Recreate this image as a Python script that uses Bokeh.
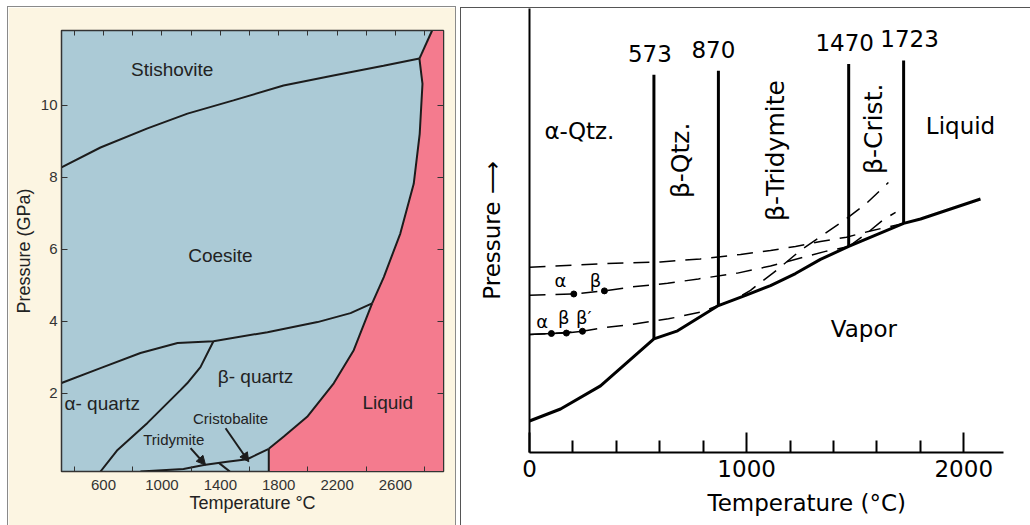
import math
from bokeh.plotting import figure
from bokeh.layouts import row
from bokeh.models import LinearAxis, FixedTicker, Range1d, Arrow, NormalHead, Title
from bokeh.core.properties import value
from bokeh.embed import file_html
from bokeh.resources import INLINE

# ---------------- Left panel data: T (°C), P (GPa) ----------------
stish_coes_T = [312, 579, 901, 1175, 1490, 1833, 2175, 2518, 2764]
stish_coes_P = [8.27, 8.82, 9.35, 9.76, 10.13, 10.54, 10.82, 11.09, 11.29]
stish_liq_T = [2764, 2851]
stish_liq_P = [11.29, 12.07]
coes_liq_T = [2764, 2785, 2766, 2725, 2633, 2520, 2440]
coes_liq_P = [11.29, 10.59, 9.20, 7.81, 6.43, 5.22, 4.49]
qtz_liq_T = [2440, 2314, 2177, 1995, 1835, 1732]
qtz_liq_P = [4.49, 3.19, 2.27, 1.34, 0.79, 0.45]
melt_T = [1732, 1732]
melt_P = [0.45, -0.18]
coes_qtz_T = [312, 579, 853, 1107, 1353, 1723, 2066, 2292, 2440]
coes_qtz_P = [2.28, 2.69, 3.11, 3.39, 3.44, 3.69, 3.97, 4.22, 4.49]
ab_qtz_T = [1353, 1264, 1173, 1127, 901, 696, 579]
ab_qtz_P = [3.44, 2.72, 2.27, 2.08, 1.17, 0.42, -0.18]
qtz_trid_T = [853, 1148, 1287, 1447, 1584, 1732]
qtz_trid_P = [-0.18, -0.11, 0.0, 0.09, 0.16, 0.45]
trid_cris_T = [1390, 1465]
trid_cris_P = [0.06, -0.18]
cris_arrow_T = [1436, 1595]
cris_arrow_P = [1.02, 0.09]
trid_arrow_T = [1196, 1299]
trid_arrow_P = [0.47, 0.0]
left_labels = ["Stishovite", "Coesite", "β- quartz", "α- quartz", "Liquid"]
left_label_T = [1070, 1401, 1641, 591, 2547]
left_label_P = [10.98, 5.83, 2.47, 1.71, 1.74]
small_labels = ["Cristobalite", "Tridymite"]
small_label_T = [1470, 1081]
small_label_P = [1.30, 0.72]
left_x_labels = [600, 1000, 1400, 1800, 2200, 2600]
left_x_minor = [400, 800, 1200, 1600, 2000, 2400, 2800]
left_x_top = list(range(400, 2801, 200))
left_y_ticks = [2, 4, 6, 8, 10]

# ---------------- Right panel data: T (°C), relative pressure ----------------
vap_T = [0, 143, 327, 450, 573, 682, 870, 995, 1110, 1225, 1340, 1470, 1723, 1801, 2077]
vap_P = [7.1, 9.8, 15.0, 20.3, 25.6, 27.4, 33.1, 35.4, 37.6, 40.3, 43.5, 46.4, 51.6, 52.6, 57.1]
trans_T = [573, 870, 1470, 1723]
trans_top_P = [85.1, 86.0, 87.5, 88.3]
trans_bot_P = [25.6, 33.1, 46.4, 51.6]
trans_labels = ["573", "870", "1470", "1723"]
d1_T = [0, 327, 603, 787, 972, 1110, 1225, 1340, 1460, 1570, 1723]
d1_P = [41.7, 42.5, 42.9, 43.6, 44.6, 45.5, 46.4, 47.5, 48.5, 49.9, 51.6]
d2_T = [0, 203, 345, 488, 636, 778, 958, 1110, 1248, 1363, 1470]
d2_P = [35.4, 35.7, 36.4, 37.4, 38.1, 39.1, 40.4, 42.0, 43.8, 45.3, 46.4]
d3_T = [0, 101, 244, 355, 465, 640, 787, 870]
d3_P = [26.6, 26.8, 27.3, 28.2, 28.8, 30.1, 31.6, 33.1]
d4_T = [1470, 1557, 1626, 1686]
d4_P = [46.4, 49.5, 52.3, 54.1]
d5_T = [870, 947, 1018, 1064, 1124, 1248, 1349, 1455, 1547, 1653]
d5_P = [33.1, 34.5, 36.5, 38.3, 40.5, 45.5, 48.9, 52.5, 55.9, 60.8]
dot_T = [101, 170, 244, 204, 345]
dot_P = [26.8, 26.9, 27.3, 35.7, 36.4]
trid_solid_T = [0, 101, 170, 244]
trid_solid_P = [26.6, 26.8, 26.9, 27.3]
phase_labels = ["α-Qtz.", "Liquid", "Vapor"]
phase_T = [230, 1985, 1540]
phase_P = [72.5, 73.6, 27.8]
rot_labels = ["β-Qtz.", "β-Tridymite", "β-Crist."]
rot_T = [695, 1133, 1586]
rot_P = [65.8, 68.0, 72.9]
greek_labels = ["α", "β", "α", "β", "β′"]
greek_T = [143, 304, 58, 158, 250]
greek_P = [38.7, 38.7, 29.4, 30.4, 30.4]
right_x_major = [0, 1000, 2000]
right_x_minor = [200, 400, 600, 800, 1200, 1400, 1600, 1800]

BLUE = "#abcad6"
PINK = "#f47b8e"
CREAM = "#fcf5e2"
INK = "#1c1c1c"
LF = "Liberation Sans"
RF = "DejaVu Sans"

# ================= Left figure =================
p1 = figure(width=447, height=518, x_range=Range1d(312, 2929), y_range=Range1d(-0.18, 12.07),
            output_backend="svg", toolbar_location=None, frame_align=False,
            min_border_left=53, min_border_right=12, min_border_top=23, min_border_bottom=54,
            margin=(7, 5, 0, 8), background_fill_color=BLUE, border_fill_color=CREAM,
            outline_line_color="#333333", outline_line_width=1.5,
            styles={"outline": "1px solid #8a8a8a"})
p1.title.visible = False
p1.grid.visible = False

liq_T = [2929, stish_liq_T[1]] + coes_liq_T + qtz_liq_T[1:] + [melt_T[1], 2929]
liq_P = [12.07, stish_liq_P[1]] + coes_liq_P + qtz_liq_P[1:] + [melt_P[1], -0.18]
p1.patch(liq_T, liq_P, fill_color=PINK, line_color=None)

for xs, ys in [(stish_coes_T, stish_coes_P), (stish_liq_T, stish_liq_P), (coes_liq_T, coes_liq_P),
               (qtz_liq_T, qtz_liq_P), (melt_T, melt_P), (coes_qtz_T, coes_qtz_P),
               (ab_qtz_T, ab_qtz_P), (qtz_trid_T, qtz_trid_P), (trid_cris_T, trid_cris_P)]:
    p1.line(xs, ys, line_color=INK, line_width=2)

for xs, ys in [(cris_arrow_T, cris_arrow_P), (trid_arrow_T, trid_arrow_P)]:
    p1.add_layout(Arrow(end=NormalHead(size=9, fill_color=INK, line_color=INK),
                        x_start=xs[0], y_start=ys[0], x_end=xs[1], y_end=ys[1],
                        line_color=INK, line_width=2))

p1.text(left_label_T, left_label_P, text=left_labels, text_font=value(LF), text_font_size="19px",
        text_color="#222222", text_align="center", text_baseline="middle")
p1.text(small_label_T, small_label_P, text=small_labels, text_font=value(LF), text_font_size="15px",
        text_color="#222222", text_align="center", text_baseline="middle")

xa = p1.xaxis[0]
xa.ticker = FixedTicker(ticks=left_x_labels, minor_ticks=left_x_minor)
xa.major_tick_line_color = None
xa.minor_tick_in = 5
xa.minor_tick_out = 0
xa.minor_tick_line_color = "#333333"
xa.axis_line_color = "#333333"
xa.major_label_text_font = LF
xa.major_label_text_font_size = "15px"
xa.major_label_text_color = "#333333"
xa.major_label_standoff = 2
xa.axis_label = "Temperature °C"
xa.axis_label_text_font = LF
xa.axis_label_text_font_size = "18px"
xa.axis_label_text_font_style = "normal"
xa.axis_label_text_color = "#222222"
xa.axis_label_standoff = 0

ya = p1.yaxis[0]
ya.ticker = FixedTicker(ticks=left_y_ticks)
ya.major_tick_in = 6
ya.major_tick_out = 0
ya.minor_tick_line_color = None
ya.axis_line_color = "#333333"
ya.major_tick_line_color = "#333333"
ya.major_label_text_font = LF
ya.major_label_text_font_size = "15px"
ya.major_label_text_color = "#333333"
ya.major_label_standoff = 4
ya.axis_label = "Pressure (GPa)"
ya.axis_label_text_font = LF
ya.axis_label_text_font_size = "18px"
ya.axis_label_text_font_style = "normal"
ya.axis_label_text_color = "#222222"
ya.axis_label_standoff = 4

top_ax = LinearAxis(ticker=FixedTicker(ticks=[], minor_ticks=left_x_top), minor_tick_in=5,
                    minor_tick_out=0, major_tick_line_color=None, axis_line_color="#333333",
                    minor_tick_line_color="#333333")
p1.add_layout(top_ax, "above")
right_ax = LinearAxis(ticker=FixedTicker(ticks=[], minor_ticks=left_y_ticks), minor_tick_in=6,
                      minor_tick_out=0, major_tick_line_color=None, axis_line_color="#333333",
                      minor_tick_line_color="#333333")
p1.add_layout(right_ax, "right")

# ================= Right figure =================
p2 = figure(width=569, height=517, x_range=Range1d(0, 2183), y_range=Range1d(0, 100),
            output_backend="svg", toolbar_location=None, frame_align=False,
            min_border_left=68, min_border_right=27, min_border_top=0, min_border_bottom=73,
            margin=(8, 0, 0, 1), background_fill_color="white", border_fill_color="white",
            outline_line_color=None, styles={"outline": "1px solid #555555"})
p2.title.visible = False
p2.grid.visible = False

for xs, ys in [(d1_T, d1_P), (d2_T, d2_P), (d3_T, d3_P), (d4_T, d4_P), (d5_T, d5_P)]:
    p2.line(xs, ys, line_color="black", line_width=1.5, line_dash="16 10")
p2.line(trid_solid_T, trid_solid_P, line_color="black", line_width=1.5)
p2.scatter(dot_T, dot_P, size=6, color="black")
p2.line(vap_T, vap_P, line_color="black", line_width=3)
p2.segment(trans_T, trans_bot_P, trans_T, trans_top_P, line_color="black", line_width=3)
p2.text(trans_T, trans_top_P, text=trans_labels, text_font=value(RF), text_font_size="23px",
        text_align="center", text_baseline="bottom", y_offset=-13, x_offset=[-4, -5, -4, 6],
        text_color="black")
p2.text(phase_T, phase_P, text=phase_labels, text_font=value(RF), text_font_size="23px",
        text_align="center", text_baseline="middle", text_color="black")
p2.text(rot_T, rot_P, text=rot_labels, text_font=value(RF), text_font_size="25px",
        text_align="center", text_baseline="middle", angle=math.pi / 2, text_color="black")
p2.text(greek_T, greek_P, text=greek_labels, text_font=value(RF), text_font_size="18px",
        text_align="center", text_baseline="middle", text_color="black")

xb = p2.xaxis[0]
xb.ticker = FixedTicker(ticks=right_x_major, minor_ticks=right_x_minor)
xb.major_tick_in = 20
xb.major_tick_out = 0
xb.minor_tick_in = 12
xb.minor_tick_out = 0
xb.axis_line_width = 2
xb.major_tick_line_width = 2
xb.minor_tick_line_width = 2
xb.axis_line_color = "black"
xb.major_tick_line_color = "black"
xb.minor_tick_line_color = "black"
xb.major_label_text_font = RF
xb.major_label_text_font_size = "23px"
xb.major_label_text_color = "black"
xb.major_label_standoff = 7

yb = p2.yaxis[0]
yb.ticker = FixedTicker(ticks=[])
yb.major_tick_out = 0
yb.major_tick_in = 0
yb.minor_tick_line_color = None
yb.axis_line_width = 2
yb.axis_line_color = "black"
yb.axis_label = "Pressure ⟶"
yb.axis_label_text_font = RF
yb.axis_label_text_font_size = "23px"
yb.axis_label_text_font_style = "normal"
yb.axis_label_text_color = "black"
yb.axis_label_standoff = 25

p2.add_layout(Title(text="Temperature (°C)", align="left", offset=178, standoff=16, text_font=RF,
                    text_font_size="23px", text_font_style="normal", text_color="black"), "below")

layout = row(p1, p2)
open("out.html", "w").write(file_html(layout, INLINE))
